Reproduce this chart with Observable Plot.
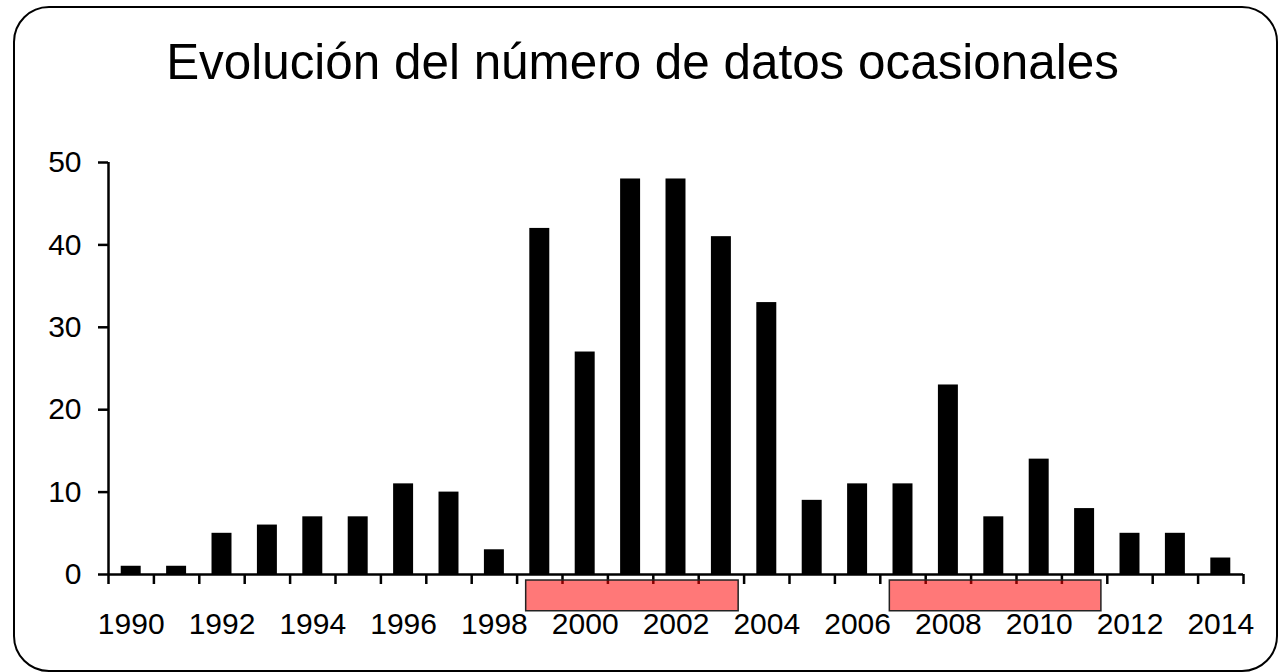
<!DOCTYPE html>
<html><head><meta charset="utf-8">
<script src="https://cdn.jsdelivr.net/npm/d3@7"></script>
<script src="https://cdn.jsdelivr.net/npm/@observablehq/plot@0.6"></script>
<style>
html,body{margin:0;padding:0;background:#fff;}
body{width:1278px;height:672px;position:relative;overflow:hidden;font-family:"Liberation Sans",Arial,sans-serif;}
#frame{position:absolute;left:13px;top:6px;width:1265px;height:666px;box-sizing:border-box;border:2.5px solid #000;border-radius:36px;pointer-events:none;}
#title{height:120px;box-sizing:border-box;padding-top:37px;padding-left:7px;text-align:center;font-size:49.4px;line-height:49px;color:#000;white-space:nowrap;}
#chart svg{display:block;}
</style></head>
<body>
<div id="title">Evolución del número de datos ocasionales</div>
<div id="chart"></div>
<div id="frame"></div>
<script>
const years = [1990,1991,1992,1993,1994,1995,1996,1997,1998,1999,2000,2001,2002,2003,2004,2005,2006,2007,2008,2009,2010,2011,2012,2013,2014];
const counts = [1,1,5,6,7,7,11,10,3,42,27,48,48,41,33,9,11,11,23,7,14,8,5,5,2];
const yearLabels = [1990,1992,1994,1996,1998,2000,2002,2004,2006,2008,2010,2012,2014];
const yTicks = [0,10,20,30,40,50];
const highlightStart = [1998.7, 2006.71];
const highlightEnd = [2003.38, 2011.37];

const data = years.map((year, i) => ({year, count: counts[i]}));
const periods = highlightStart.map((s, i) => ({x1: s, x2: highlightEnd[i]}));
const boundaries = years.map(y => y - 0.5).concat([years[years.length - 1] + 0.5]);
const xMin = boundaries[0], xMax = boundaries[boundaries.length - 1];

const chart = Plot.plot({
  width: 1278, height: 552,
  marginTop: 42, marginBottom: 98, marginLeft: 108, marginRight: 35,
  x: {domain: [xMin, xMax]},
  y: {domain: [0, 50]},
  style: {fontFamily: '"Liberation Sans", Arial, sans-serif', fontSize: "30px", color: "#000", background: "transparent", overflow: "visible"},
  marks: [
    Plot.rect(data, {x1: d => d.year - 0.22, x2: d => d.year + 0.22, y1: 0, y2: "count", fill: "#000"}),
    Plot.axisY(yTicks, {tickSize: 10, tickPadding: 17, strokeWidth: 2.5, fontSize: 30, label: null}),
    Plot.ruleX([xMin], {y1: 0, y2: 50, strokeWidth: 2.5, stroke: "#000"}),
    Plot.axisX(boundaries, {tickSize: 10, tickFormat: () => "", strokeWidth: 2.5, label: null}),
    Plot.axisX(yearLabels, {tickSize: 0, tickPadding: 38, tickFormat: d => String(d), label: null, fontSize: 30}),
    Plot.ruleY([0], {x1: xMin, x2: xMax, strokeWidth: 2.5, stroke: "#000"}),
    Plot.rect(periods, {x1: "x1", x2: "x2", y1: -0.73, y2: -4.46, fill: "red", fillOpacity: 0.53, stroke: "#222", strokeWidth: 1.5})
  ]
});
document.getElementById("chart").appendChild(chart);
</script>
</body></html>
